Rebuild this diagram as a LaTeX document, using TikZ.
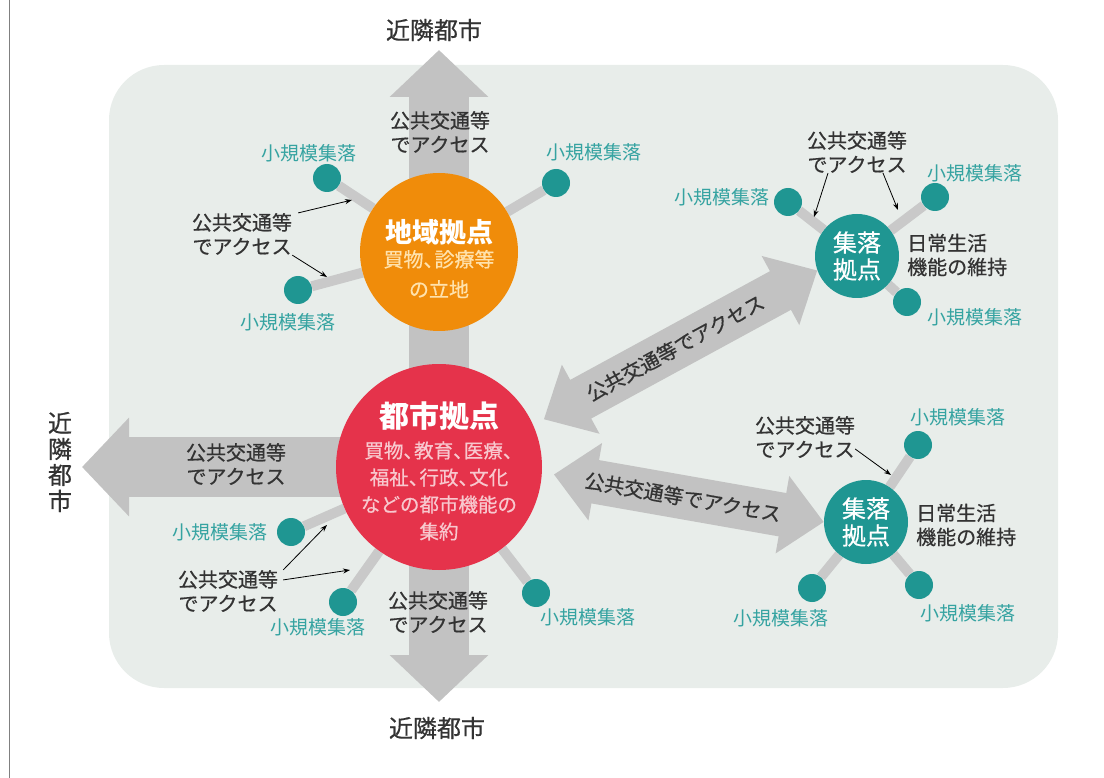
\documentclass[tikz,border=0pt]{standalone}
\usepackage{fontspec}
\setmainfont{Noto Sans CJK JP}
\newfontfamily\medfont{Noto Sans CJK JP}[FakeBold=0.6]
\usetikzlibrary{arrows.meta,backgrounds}
\definecolor{bgcol}{HTML}{E8EDEA}
\definecolor{arrowgray}{HTML}{C2C2C2}
\definecolor{spokegray}{HTML}{C9C9C9}
\definecolor{hubteal}{HTML}{1F9692}
\definecolor{labelteal}{HTML}{35A3A1}
\definecolor{cityred}{HTML}{E5334B}
\definecolor{citypink}{HTML}{F8C8CE}
\definecolor{regionorange}{HTML}{F08C0A}
\definecolor{regioncream}{HTML}{FFE2AC}
\definecolor{inkgray}{HTML}{333333}
\newcommand{\tou}{、\kern-.45em}
\tikzset{
  bigarrow/.style={arrowgray, line width=60pt, -{Triangle[length=47pt,width=96pt]}},
  linkarrow/.style={arrowgray, line width=44pt, {Triangle[length=42pt,width=76pt]}-{Triangle[length=42pt,width=76pt]}},
  spoke/.style={spokegray, line width=10pt},
  village/.style={circle, fill=hubteal, minimum size=28pt, inner sep=0pt},
  vlabel/.style={text=labelteal, font=\fontsize{19}{21}\selectfont, inner sep=0pt},
  access/.style={text=inkgray, align=center, font=\medfont\fontsize{20}{24}\selectfont, inner sep=0pt},
  pointer/.style={black, line width=0.8pt, -{Stealth[length=7pt,width=5pt]}},
  hub/.style={circle, fill=hubteal, minimum size=84pt, inner sep=0pt, text=white, align=center, font=\medfont\fontsize{24}{27}\selectfont},
  daily/.style={text=inkgray, align=left, anchor=west, font=\medfont\fontsize{20}{24}\selectfont, inner sep=0pt},
  cityname/.style={text=inkgray, align=center, font=\medfont\fontsize{24}{26}\selectfont, inner sep=0pt}
}
\begin{document}
\begin{tikzpicture}[x=1pt,y=-1pt]
  \useasboundingbox (0,0) rectangle (1104,778);
  \draw [gray, line width=1pt] (9,0) -- (9,778);

  \node [circle, fill=regionorange, minimum size=158pt, inner sep=0pt] (region) at (439,252) {};
  \node [circle, fill=cityred, minimum size=206pt, inner sep=0pt] (city) at (439,467) {};
  \node [hub] (hubA) at (857,256) {集落\\拠点};
  \node [hub] (hubB) at (866,522) {集落\\拠点};

  \node [village] (oa) at (327,178) {};
  \node [village] (ob) at (298,290) {};
  \node [village] (oc) at (556,183) {};
  \node [village] (ca) at (291,532) {};
  \node [village] (cb) at (343,602) {};
  \node [village] (cc) at (536,593) {};
  \node [village] (aa) at (788,202) {};
  \node [village] (ab) at (935,197) {};
  \node [village] (ac) at (907,302) {};
  \node [village] (ba) at (918,445) {};
  \node [village] (bb) at (812,588) {};
  \node [village] (bc) at (919,585) {};

  \coordinate (topTip) at (439,50);
  \coordinate (botTip) at (439,702);
  \coordinate (leftTip) at (82,467);

  \begin{scope}[on background layer]
    \fill [bgcol, rounded corners=55pt] (109,65) rectangle (1058,688);
    \draw [bigarrow] (city.center) -- (topTip);
    \draw [bigarrow] (city.center) -- (botTip);
    \draw [bigarrow] (city.center) -- (leftTip);
    \draw [linkarrow, shorten <=12pt] (city.24) -- (hubA.200) node [midway, sloped, access] {公共交通等でアクセス};
    \draw [linkarrow, shorten <=12pt] (city.-3) -- (hubB.180) node [midway, sloped, access] {公共交通等でアクセス};
    \foreach \s in {oa,ob,oc} \draw [spoke] (region) -- (\s);
    \foreach \s in {ca,cb,cc} \draw [spoke] (city) -- (\s);
    \foreach \s in {aa,ab,ac} \draw [spoke] (hubA) -- (\s);
    \foreach \s in {ba,bb,bc} \draw [spoke] (hubB) -- (\s);
  \end{scope}

  \node [text=white, font=\fontsize{27}{30}\selectfont\bfseries, inner sep=0pt] (regionTitle) at (439,232) {地域拠点};
  \node [text=regioncream, align=center, font=\medfont\fontsize{20}{30}\selectfont, inner sep=0pt] (regionBody) at (439,274) {買物\tou 診療等\\の立地};
  \node [text=white, font=\fontsize{30}{32}\selectfont\bfseries, inner sep=0pt] (cityTitle) at (439,416) {都市拠点};
  \node [text=citypink, align=center, font=\medfont\fontsize{19.5}{27}\selectfont, inner sep=0pt] (cityBody) at (439,491) {買物\tou 教育\tou 医療\tou\\福祉\tou 行政\tou 文化\\などの都市機能の\\集約};

  \node [daily] (dailyA) at (907,255) {日常生活\\機能の維持};
  \node [daily] (dailyB) at (916,525) {日常生活\\機能の維持};

  \node [cityname] (northCity) at (434,30) {近隣都市};
  \node [cityname] (southCity) at (437,728) {近隣都市};
  \node [cityname] (westCity) at (60,462) {近\\隣\\都\\市};

  \node [vlabel] (loa) at (309,153) {小規模集落};
  \node [vlabel] (lob) at (288,322) {小規模集落};
  \node [vlabel] (loc) at (594,152) {小規模集落};
  \node [vlabel] (lca) at (220,532) {小規模集落};
  \node [vlabel] (lcb) at (318,627) {小規模集落};
  \node [vlabel] (lcc) at (588,617) {小規模集落};
  \node [vlabel] (laa) at (722,197) {小規模集落};
  \node [vlabel] (lab) at (975,173) {小規模集落};
  \node [vlabel] (lac) at (975,317) {小規模集落};
  \node [vlabel] (lba) at (958,417) {小規模集落};
  \node [vlabel] (lbb) at (781,618) {小規模集落};
  \node [vlabel] (lbc) at (968,613) {小規模集落};

  \node [access] (accTop) at (440,132) {公共交通等\\でアクセス};
  \node [access] (accLeft) at (236,464) {公共交通等\\でアクセス};
  \node [access] (accBot) at (438,612) {公共交通等\\でアクセス};
  \node [access] (accRegion) at (242,234) {公共交通等\\でアクセス};
  \node [access] (accCity) at (228,591) {公共交通等\\でアクセス};
  \node [access] (accHubA) at (857,152) {公共交通等\\でアクセス};
  \node [access] (accHubB) at (805,437) {公共交通等\\でアクセス};

  \coordinate (pRa) at (352,200);
  \coordinate (pRb) at (327,277);
  \coordinate (pCa) at (327,525);
  \coordinate (pCb) at (350,570);
  \coordinate (pAa) at (814,217);
  \coordinate (pAb) at (898,210);
  \coordinate (pBa) at (891,475);

  \draw [pointer] ([xshift=6pt]accRegion.north east) -- (pRa);
  \draw [pointer] (accRegion.south east) -- (pRb);
  \draw [pointer] ([xshift=5pt]accCity.north east) -- (pCa);
  \draw [pointer] ([xshift=5pt,yshift=-10pt]accCity.north east) -- (pCb);
  \draw [pointer] ([xshift=-29pt]accHubA.south) -- (pAa);
  \draw [pointer] ([xshift=26pt]accHubA.south) -- (pAb);
  \draw [pointer] ([yshift=-12pt]accHubB.east) -- (pBa);
\end{tikzpicture}
\end{document}
